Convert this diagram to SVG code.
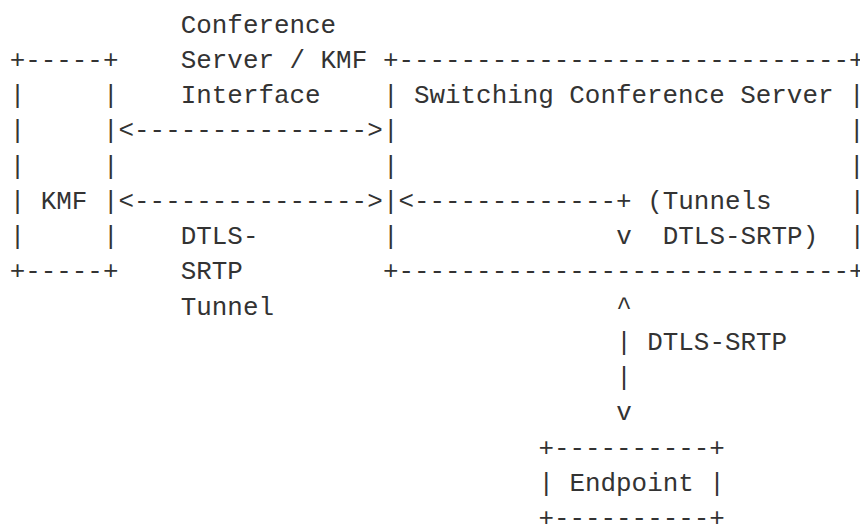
<svg xmlns="http://www.w3.org/2000/svg" width="860" height="527" viewBox="0 0 860 527">
  <style>
    text { font-family: "Liberation Mono", "DejaVu Sans Mono", monospace; font-size: 25.9px; fill: #333333; white-space: pre; }
  </style>
  <rect width="860" height="527" fill="#ffffff"/>

  <!-- column grid: x = 9.7 + 15.55 * col; rows every 35.25px from baseline 32.5 -->

  <g id="kmf">
    <text x="9.7" y="67.75" xml:space="preserve">+-----+</text>
    <text x="9.7" y="103" xml:space="preserve">|     |</text>
    <text x="9.7" y="138.25" xml:space="preserve">|     |</text>
    <text x="9.7" y="173.5" xml:space="preserve">|     |</text>
    <text x="9.7" y="208.75" xml:space="preserve">| KMF |</text>
    <text x="9.7" y="244" xml:space="preserve">|     |</text>
    <text x="9.7" y="279.25" xml:space="preserve">+-----+</text>
  </g>

  <g id="switching-conference-server">
    <text x="382.9" y="67.75" xml:space="preserve">+-----------------------------+</text>
    <text x="382.9" y="103" xml:space="preserve">| Switching Conference Server |</text>
    <text x="382.9" y="138.25" xml:space="preserve">|                             |</text>
    <text x="382.9" y="173.5" xml:space="preserve">|                             |</text>
    <text x="382.9" y="208.75">|</text>
    <text x="849.4" y="208.75">|</text>
    <text x="382.9" y="244">|</text>
    <text x="849.4" y="244">|</text>
    <text x="382.9" y="279.25" xml:space="preserve">+-----------------------------+</text>
    <text x="647.25" y="208.75">(Tunnels</text>
    <text x="662.8" y="244">DTLS-SRTP)</text>
  </g>

  <g id="endpoint">
    <text x="538.4" y="455.5" xml:space="preserve">+----------+</text>
    <text x="538.4" y="490.75" xml:space="preserve">| Endpoint |</text>
    <text x="538.4" y="526" xml:space="preserve">+----------+</text>
  </g>

  <g id="connectors">
    <!-- Conference Server / KMF interface -->
    <text x="118.55" y="138.25" xml:space="preserve">&lt;---------------&gt;</text>
    <!-- DTLS-SRTP tunnel -->
    <text x="118.55" y="208.75" xml:space="preserve">&lt;---------------&gt;</text>
    <!-- internal tunnel path -->
    <text x="398.45" y="208.75" xml:space="preserve">&lt;-------------+</text>
    <text x="616.15" y="244">v</text>
    <!-- server to endpoint -->
    <text x="616.15" y="314.5">^</text>
    <text x="616.15" y="349.75">|</text>
    <text x="616.15" y="385">|</text>
    <text x="616.15" y="420.25">v</text>
  </g>

  <g id="labels">
    <text x="180.75" y="32.5">Conference</text>
    <text x="180.75" y="67.75">Server / KMF</text>
    <text x="180.75" y="103">Interface</text>
    <text x="180.75" y="244">DTLS-</text>
    <text x="180.75" y="279.25">SRTP</text>
    <text x="180.75" y="314.5">Tunnel</text>
    <text x="647.25" y="349.75">DTLS-SRTP</text>
  </g>
</svg>
